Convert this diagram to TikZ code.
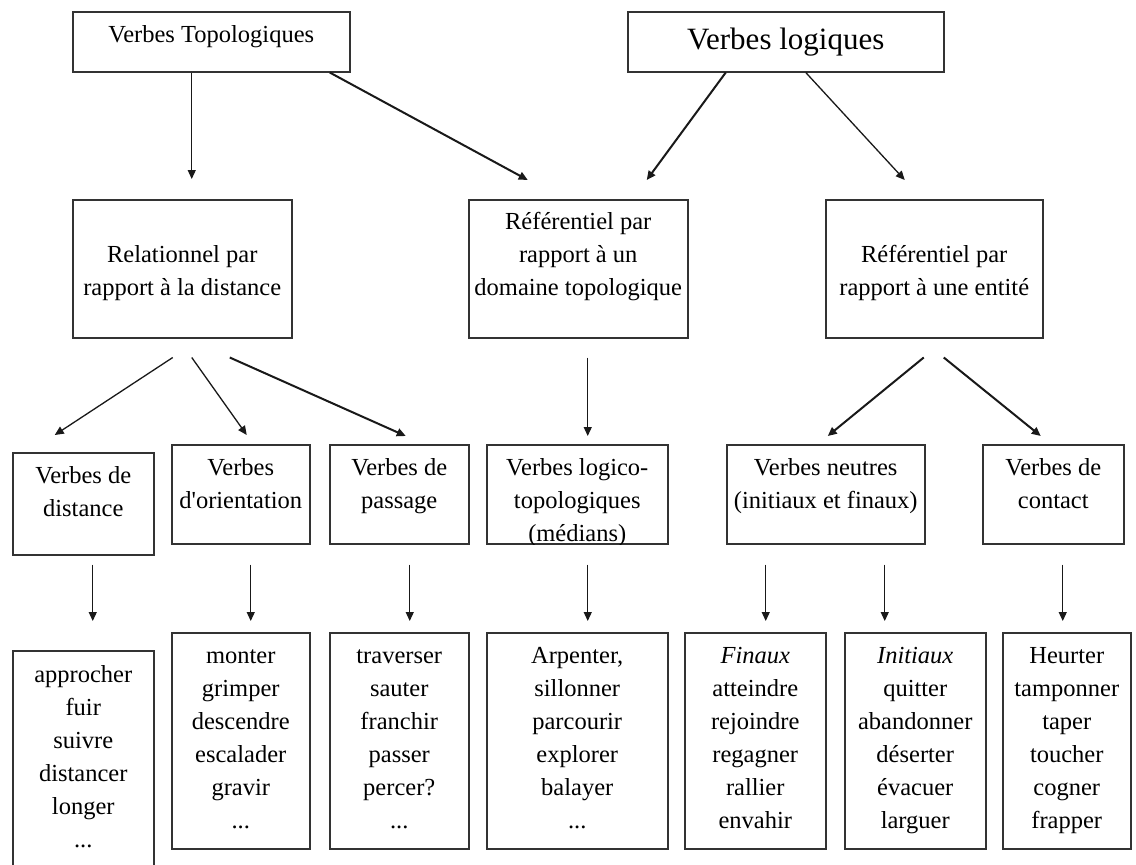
\documentclass[tikz,border=0pt]{standalone}
\usepackage{fontspec}
\setmainfont{Liberation Serif}
\usetikzlibrary{arrows.meta}
\newcommand\sq{\XeTeXglyph\XeTeXcharglyph"0027\relax}
\newcommand\bxt[4]{\parbox[c][#2][t]{#1}{\centering\fontsize{24.5}{33}\selectfont\vspace*{\dimexpr#3-23.1pt\relax}\strut#4}}
\newcommand\bxbig[4]{\parbox[c][#2][t]{#1}{\centering\fontsize{31}{36}\selectfont\vspace*{\dimexpr#3-25.2pt\relax}\strut#4}}
\tikzset{
  box/.style={draw=black!80, line width=1.5pt, inner sep=0pt, anchor=north west},
  arr/.style={-{Triangle[length=9pt,width=8pt]}, line width=1.3pt, black!90},
  arrb/.style={arr, line width=2pt}
}
\begin{document}
\begin{tikzpicture}[x=1pt,y=-1pt]
\useasboundingbox[fill=white] (0,0) rectangle (1136,865);
% level 1
\node[box] (vt) at (72,11) {\bxt{277pt}{60pt}{31pt}{Verbes Topologiques}};
\node[box] (vl) at (627,11) {\bxbig{316pt}{60pt}{38pt}{Verbes logiques}};
% level 2
\node[box] (rel) at (72,199) {\bxt{219pt}{138pt}{63pt}{Relationnel par\\rapport à la distance}};
\node[box] (rdom) at (468,199) {\bxt{219pt}{138pt}{30pt}{Référentiel par\\rapport à un\\domaine topologique}};
\node[box] (rent) at (825,199) {\bxt{217pt}{138pt}{63pt}{Référentiel par\\rapport à une entité}};
% level 3
\node[box] (dist) at (12,452) {\bxt{141pt}{102pt}{31pt}{Verbes de\\distance}};
\node[box] (orie) at (171,444) {\bxt{138pt}{99pt}{31pt}{Verbes\\d\sq orientation}};
\node[box] (pass) at (329,444) {\bxt{139pt}{99pt}{31pt}{Verbes de\\passage}};
\begin{scope}
\clip (484,442) rectangle (669,544.5);
\node[box] (logi) at (486,444) {\bxt{181pt}{99pt}{31pt}{Verbes logico-\\topologiques\\(médians)}};
\end{scope}
\node[box] (neut) at (726,444) {\bxt{198pt}{99pt}{31pt}{Verbes neutres\\(initiaux et finaux)}};
\node[box] (cont) at (982,444) {\bxt{141pt}{99pt}{31pt}{Verbes de\\contact}};
% level 4
\node[box] (bdist) at (12,650) {\bxt{141pt}{240pt}{32pt}{approcher\\fuir\\suivre\\distancer\\longer\\...}};
\node[box] (borie) at (171,632) {\bxt{138pt}{216pt}{31pt}{monter\\grimper\\descendre\\escalader\\gravir\\...}};
\node[box] (bpass) at (329,632) {\bxt{139pt}{216pt}{31pt}{traverser\\sauter\\franchir\\passer\\percer?\\...}};
\node[box] (blogi) at (486,632) {\bxt{181pt}{216pt}{31pt}{Arpenter,\\sillonner\\parcourir\\explorer\\balayer\\...}};
\node[box] (bfin) at (684,632) {\bxt{141pt}{216pt}{31pt}{\textit{Finaux}\\atteindre\\rejoindre\\regagner\\rallier\\envahir}};
\node[box] (bini) at (844,632) {\bxt{141pt}{216pt}{31pt}{\textit{Initiaux}\\quitter\\abandonner\\déserter\\évacuer\\larguer}};
\node[box] (bcon) at (1002,632) {\bxt{128pt}{216pt}{31pt}{Heurter\\tamponner\\taper\\toucher\\cogner\\frapper}};
% arrows level 1 -> 2
\draw[arr] ([xshift=-19.5pt]vt.south) -- ([xshift=9.5pt,yshift=20pt]rel.north);
\draw[arrb] ([xshift=118.5pt]vt.south) -- ([xshift=-50.5pt,yshift=19pt]rdom.north);
\draw[arrb] ([xshift=-60pt]vl.south) -- ([xshift=68.5pt,yshift=19pt]rdom.north);
\draw[arr] ([xshift=20pt]vl.south) -- ([xshift=-29.5pt,yshift=19pt]rent.north);
% level 2 -> 3
\draw[arr] ([xshift=-9.5pt,yshift=-19pt]rel.south) -- ([xshift=-28.5pt,yshift=17pt]dist.north);
\draw[arr] ([xshift=9.5pt,yshift=-19pt]rel.south) -- ([xshift=6pt,yshift=9pt]orie.north);
\draw[arrb] ([xshift=47.5pt,yshift=-19pt]rel.south) -- ([xshift=6.5pt,yshift=8pt]pass.north);
\draw[arr] ([xshift=9.5pt,yshift=-19pt]rdom.south) -- ([xshift=10.5pt,yshift=8pt]logi.north);
\draw[arrb] ([xshift=-10.5pt,yshift=-19pt]rent.south) -- ([xshift=2pt,yshift=8pt]neut.north);
\draw[arrb] ([xshift=9.5pt,yshift=-19pt]rent.south) -- ([xshift=-12.5pt,yshift=8pt]cont.north);
% level 3 -> 4
\draw[arr] ([xshift=9.5pt,yshift=-9pt]dist.south) -- ([xshift=9.5pt,yshift=29pt]bdist.north);
\draw[arr] ([xshift=10pt,yshift=-20pt]orie.south) -- ([xshift=10pt,yshift=11pt]borie.north);
\draw[arr] ([xshift=10.5pt,yshift=-20pt]pass.south) -- ([xshift=10.5pt,yshift=11pt]bpass.north);
\draw[arr] ([xshift=10.5pt,yshift=-20pt]logi.south) -- ([xshift=10.5pt,yshift=11pt]blogi.north);
\draw[arr] ([xshift=-60pt,yshift=-20pt]neut.south) -- ([xshift=10.5pt,yshift=11pt]bfin.north);
\draw[arr] ([xshift=59pt,yshift=-20pt]neut.south) -- ([xshift=-30.5pt,yshift=11pt]bini.north);
\draw[arr] ([xshift=9.5pt,yshift=-20pt]cont.south) -- ([xshift=-4pt,yshift=11pt]bcon.north);
\end{tikzpicture}
\end{document}
